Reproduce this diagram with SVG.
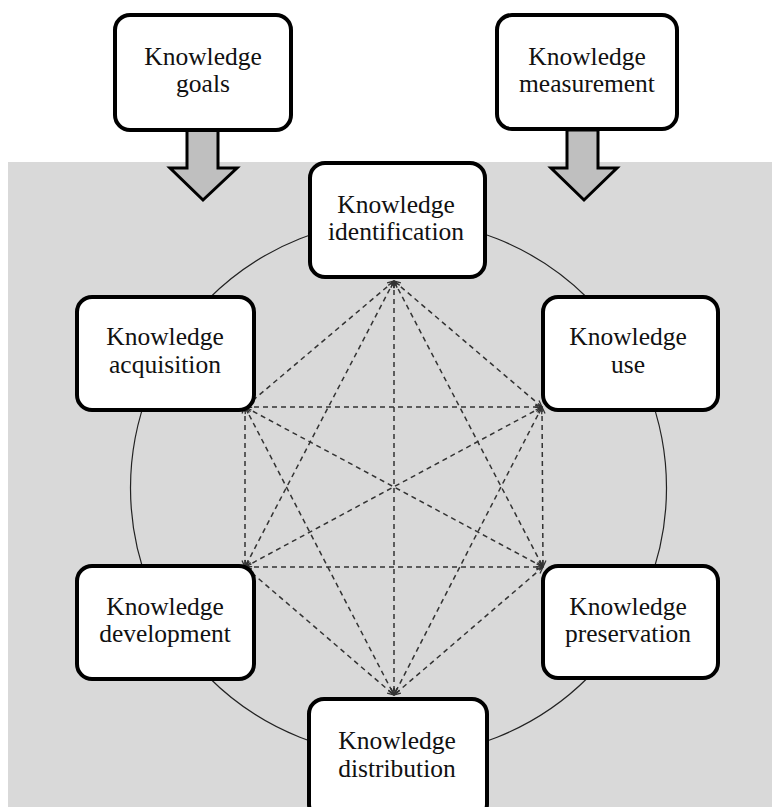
<svg xmlns="http://www.w3.org/2000/svg" width="772" height="807" viewBox="0 0 772 807">
  <style>
    .box rect { fill: #ffffff; stroke: #000000; stroke-width: 4; }
    .box text { font-family: "Liberation Serif", "Times New Roman", serif; font-size: 25.5px; fill: #111111; text-anchor: middle; }
    .link { stroke: #333333; stroke-width: 1.5; stroke-dasharray: 5 4; fill: none; marker-start: url(#tip); marker-end: url(#tip); }
    .flow { fill: #bfbfbf; stroke: #000000; stroke-width: 3; stroke-linejoin: miter; }
  </style>
  <defs>
    <marker id="tip" viewBox="0 0 8 8" refX="7.5" refY="4" markerWidth="8" markerHeight="8" markerUnits="userSpaceOnUse" orient="auto-start-reverse">
      <path d="M1,1 L7.5,4 L1,7" fill="none" stroke="#333333" stroke-width="1.3"/>
    </marker>
  </defs>

  <rect width="772" height="807" fill="#ffffff"/>
  <!-- shaded process area -->
  <rect x="8" y="162" width="764" height="645" fill="#d9d9d9"/>

  <!-- cycle ring -->
  <circle cx="398.5" cy="488" r="268" fill="none" stroke="#222222" stroke-width="1.2"/>

  <!-- input arrows from the steering boxes -->
  <g id="arrows">
    <path class="flow" d="M187,130 L218,130 L218,168 L237,168 L203,200 L170,168 L187,168 Z"/>
    <path class="flow" d="M567,130 L598,130 L598,168 L617,168 L584,200 L551,168 L567,168 Z"/>
  </g>

  <!-- all-pairs links between the six building blocks -->
  <g id="connectors">
    <line class="link" x1="394" y1="281" x2="245" y2="407"/>
    <line class="link" x1="394" y1="281" x2="542" y2="407"/>
    <line class="link" x1="394" y1="281" x2="245" y2="567"/>
    <line class="link" x1="394" y1="281" x2="543" y2="567"/>
    <line class="link" x1="394" y1="281" x2="394" y2="695"/>
    <line class="link" x1="245" y1="407" x2="542" y2="407"/>
    <line class="link" x1="245" y1="407" x2="245" y2="567"/>
    <line class="link" x1="245" y1="407" x2="543" y2="567"/>
    <line class="link" x1="245" y1="407" x2="394" y2="695"/>
    <line class="link" x1="542" y1="407" x2="245" y2="567"/>
    <line class="link" x1="542" y1="407" x2="543" y2="567"/>
    <line class="link" x1="542" y1="407" x2="394" y2="695"/>
    <line class="link" x1="245" y1="567" x2="543" y2="567"/>
    <line class="link" x1="245" y1="567" x2="394" y2="695"/>
    <line class="link" x1="543" y1="567" x2="394" y2="695"/>
  </g>

  <g id="goals" class="box">
    <rect x="115" y="15" width="176" height="115" rx="15"/>
    <text x="203" y="65">Knowledge</text>
    <text x="203" y="92">goals</text>
  </g>
  <g id="measurement" class="box">
    <rect x="497" y="15" width="180" height="114" rx="15"/>
    <text x="587" y="65">Knowledge</text>
    <text x="587" y="92">measurement</text>
  </g>
  <g id="identification" class="box">
    <rect x="310" y="163" width="175" height="114" rx="15"/>
    <text x="396" y="213">Knowledge</text>
    <text x="396" y="240">identification</text>
  </g>
  <g id="acquisition" class="box">
    <rect x="77" y="297" width="177" height="113" rx="15"/>
    <text x="165" y="345">Knowledge</text>
    <text x="165" y="373">acquisition</text>
  </g>
  <g id="use" class="box">
    <rect x="543" y="297" width="175" height="113" rx="15"/>
    <text x="628" y="345">Knowledge</text>
    <text x="628" y="373">use</text>
  </g>
  <g id="development" class="box">
    <rect x="77" y="566" width="177" height="113" rx="15"/>
    <text x="165" y="615">Knowledge</text>
    <text x="165" y="642">development</text>
  </g>
  <g id="preservation" class="box">
    <rect x="543" y="566" width="175" height="112" rx="15"/>
    <text x="628" y="615">Knowledge</text>
    <text x="628" y="642">preservation</text>
  </g>
  <g id="distribution" class="box">
    <rect x="309" y="699" width="178" height="120" rx="15"/>
    <text x="397" y="749">Knowledge</text>
    <text x="397" y="777">distribution</text>
  </g>
</svg>
